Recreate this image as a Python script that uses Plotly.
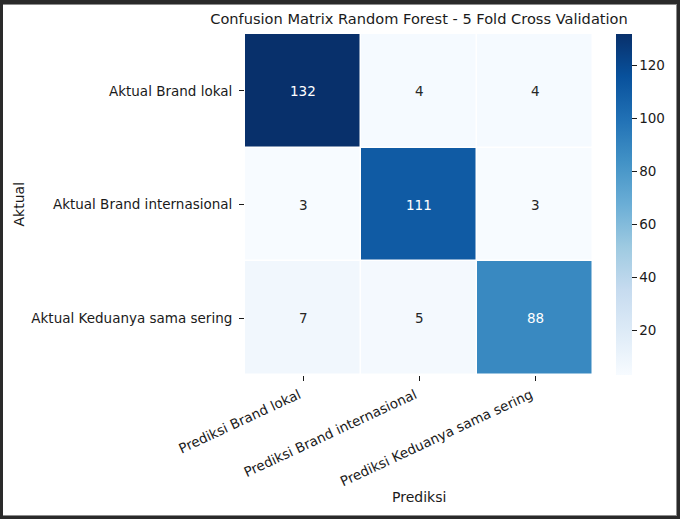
import plotly.graph_objects as go

# ---- data ----
pred_labels = ["Prediksi Brand lokal", "Prediksi Brand internasional", "Prediksi Keduanya sama sering"]
actual_labels = ["Aktual Brand lokal", "Aktual Brand internasional", "Aktual Keduanya sama sering"]
row_brand_lokal = [132, 4, 4]
row_brand_internasional = [3, 111, 3]
row_keduanya = [7, 5, 88]
colorbar_ticks = [20, 40, 60, 80, 100, 120]
title_text = "Confusion Matrix Random Forest - 5 Fold Cross Validation"

z = [row_brand_lokal, row_brand_internasional, row_keduanya]
zmin = min(min(r) for r in z)
zmax = max(max(r) for r in z)

blues = ["#f7fbff", "#deebf7", "#c6dbef", "#9ecae1", "#6baed6",
         "#4292c6", "#2171b5", "#08519c", "#08306b"]
colorscale = [[i / (len(blues) - 1), c] for i, c in enumerate(blues)]

W, H = 680, 519
L, R, T, B = 245, 593, 34, 375  # plot area in px

FONT = "DejaVu Sans"
TXT = "#1a1a1a"
TICK_SIZE = 13.5

fig = go.Figure(go.Heatmap(
    z=z, x=pred_labels, y=actual_labels,
    colorscale=colorscale, zmin=zmin, zmax=zmax,
    xgap=1.5, ygap=1.5,
    hoverinfo="skip",
    colorbar=dict(
        x=(616 - L) / (R - L), xanchor="left", xpad=0,
        y=0.5, yanchor="middle", ypad=0,
        len=1, lenmode="fraction", thickness=16,
        outlinewidth=0,
        ticks="outside", ticklen=5, tickwidth=1, tickcolor=TXT,
        tickvals=colorbar_ticks,
        tickfont=dict(family=FONT, size=TICK_SIZE, color=TXT),
    ),
))

# cell annotations
for i, row in enumerate(z):
    for j, v in enumerate(row):
        color = "#ffffff" if v > (zmin + (zmax - zmin) * 0.55) else "#262626"
        fig.add_annotation(x=pred_labels[j], y=actual_labels[i], text=str(v),
                           showarrow=False,
                           font=dict(family=FONT, size=TICK_SIZE, color=color))

def px_x(p):
    return (p - L) / (R - L)

def px_y(p):
    return (B - p) / (B - T)

# axis titles
fig.add_annotation(xref="paper", yref="paper", x=px_x(18), y=0.5, text="Aktual",
                   textangle=-90, showarrow=False, xanchor="center", yanchor="middle",
                   font=dict(family=FONT, size=14, color=TXT))
fig.add_annotation(xref="paper", yref="paper", x=0.5, y=px_y(497), text="Prediksi",
                   showarrow=False, xanchor="center", yanchor="middle",
                   font=dict(family=FONT, size=14, color=TXT))

# screenshot frame
dark = "#2a2a2a"
gray = "#8c8c8c"
frames = [
    (0, 0, W, 4, dark), (0, 0, 3, H, dark), (677, 0, W, H, dark), (0, 516, W, H, dark),
    (3, 4, 677, 5, gray), (3, 515, 677, 516, gray), (676, 4, 677, 516, gray),
]
for x0, y0, x1, y1, c in frames:
    fig.add_shape(type="rect", xref="paper", yref="paper",
                  x0=px_x(x0), x1=px_x(x1), y0=px_y(y0), y1=px_y(y1),
                  fillcolor=c, line=dict(width=0), layer="above")

fig.update_layout(
    width=W, height=H,
    margin=dict(l=L, r=W - R, t=T, b=H - B, autoexpand=False),
    paper_bgcolor="white", plot_bgcolor="white",
    title=dict(text=title_text, x=0.5, xref="paper", xanchor="center",
               y=1 - 19 / H, yref="container", yanchor="middle",
               font=dict(family=FONT, size=14.6, color=TXT)),
    font=dict(family=FONT, size=TICK_SIZE, color=TXT),
)
fig.update_xaxes(showgrid=False, zeroline=False, showline=False,
                 ticks="outside", ticklen=5, tickwidth=1, tickcolor=TXT,
                 tickangle=-25, tickfont=dict(family=FONT, size=TICK_SIZE, color=TXT),
                 ticklabelstandoff=1, ticklabelshift=-4,
                 automargin=False)
fig.update_yaxes(showgrid=False, zeroline=False, showline=False,
                 autorange="reversed",
                 ticks="outside", ticklen=5, tickwidth=1, tickcolor=TXT,
                 tickfont=dict(family=FONT, size=TICK_SIZE, color=TXT),
                 ticklabelstandoff=4,
                 automargin=False)

fig.write_html("out.html")
